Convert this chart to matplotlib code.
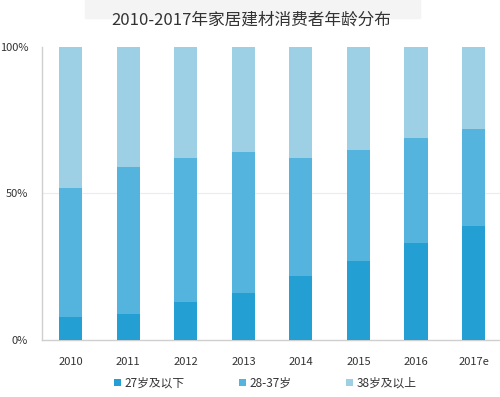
import matplotlib
matplotlib.use("Agg")
import matplotlib.pyplot as plt
from matplotlib.patches import Rectangle

plt.rcParams['font.family'] = ['Noto Sans CJK SC', 'DejaVu Sans']

years = ["2010", "2011", "2012", "2013", "2014", "2015", "2016", "2017e"]
young = [8, 9, 13, 16, 22, 27, 33, 39]          # 27岁及以下
mid_cum = [52, 59, 62, 64, 62, 65, 69, 72]      # cumulative top of 28-37岁
middle = [m - y for m, y in zip(mid_cum, young)]
old = [100 - m for m in mid_cum]                # 38岁及以上
labels = ["27岁及以下", "28-37岁", "38岁及以上"]
colors = ["#249fd3", "#55b4de", "#9ed0e5"]

fig = plt.figure(figsize=(5.0, 3.97), dpi=100)
ax = fig.add_axes([0.084, 0.1436, 0.916, 0.738])

x = list(range(len(years)))
w = 0.4
b1 = ax.bar(x, young, width=w, color=colors[0], label=labels[0], zorder=3)
b2 = ax.bar(x, middle, width=w, bottom=young, color=colors[1], label=labels[1], zorder=3)
b3 = ax.bar(x, old, width=w, bottom=mid_cum, color=colors[2], label=labels[2], zorder=3)

ax.set_xlim(-0.5, 7.46)
ax.set_ylim(0, 100)
ax.set_yticks([0, 50, 100])
ax.set_yticklabels(["0%", "50%", "100%"])
ax.axhline(50, color="#ececec", lw=0.8, zorder=1)
ax.set_xticks(x)
ax.set_xticklabels(years)
for s in ["top", "right"]:
    ax.spines[s].set_visible(False)
for s in ["left", "bottom"]:
    ax.spines[s].set_color("#cfcfcf")
    ax.spines[s].set_linewidth(1.0)
ax.tick_params(axis="both", length=0, labelsize=8, colors="#333333")
ax.tick_params(axis="x", pad=12)
ax.tick_params(axis="y", pad=10)
for t in ax.get_xticklabels():
    t.set_fontweight("medium")

# faint title background band
fig.patches.append(Rectangle((85 / 500, 1 - 18 / 397), 335 / 500, 18 / 397,
                             transform=fig.transFigure, color="#f4f4f4", zorder=0))
fig.text(0.503, 1 - 20 / 397, "2010-2017年家居建材消费者年龄分布", ha="center", va="center",
         fontsize=12, color="#333333")

leg = fig.legend(handles=[b1, b2, b3], labels=labels, loc="center",
                 bbox_to_anchor=(0.53, 1 - 383 / 397), ncol=3, frameon=False,
                 fontsize=8.5, handlelength=0.6, handleheight=0.6, columnspacing=4.6,
                 handletextpad=0.3)
for t in leg.get_texts():
    t.set_color("#333333")

fig.savefig("out.png", dpi=100)
